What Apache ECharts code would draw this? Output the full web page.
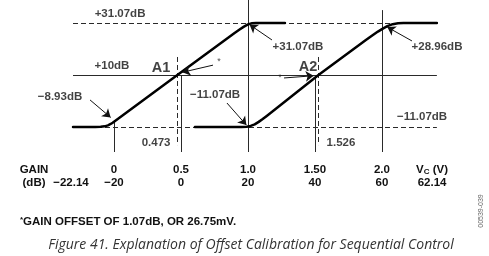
<!DOCTYPE html>
<html>
<head>
<meta charset="utf-8">
<script src="https://cdn.jsdelivr.net/npm/echarts@6/dist/echarts.min.js"></script>
<style>
html,body{margin:0;padding:0;background:#fff;}
#c{width:489px;height:256px;}
</style>
</head>
<body>
<div id="c"></div>
<script>
// ---- data (control voltage V_C in volts, gain in dB) ----
const curve1V    = [-0.306, -0.14, -0.1, -0.07, -0.045, -0.025, -0.01, 0, 0.473, 0.9, 0.94, 0.97, 1.0, 1.03, 1.06, 1.276];
const curve1Gain = [-11.07, -11.07, -11.0, -10.8, -10.4, -9.85, -9.35, -8.93, 10, 27.0, 28.5, 29.6, 30.5, 30.95, 31.07, 31.07];
const curve2V    = [0.604, 0.95, 0.99, 1.02, 1.05, 1.08, 1.11, 1.14, 1.526, 1.88, 1.93, 1.97, 2.0, 2.04, 2.08, 2.12, 2.16, 2.41];
const curve2Gain = [-11.07, -11.06, -10.95, -10.65, -10.0, -9.0, -7.85, -6.6, 10, 24.2, 26.1, 27.6, 28.6, 29.8, 30.6, 31.0, 31.07, 31.07];

// reference levels (dB) and their extent in V
const levelGain  = [31.07, 10, -11.07];
const levelDash  = [true, false, true];
const levelStart = -0.306, levelEnd = 2.41;

// vertical markers: V, from dB, to dB, dashed
const markV     = [0, 0.5, 1.0, 1.5, 2.0, 0.473, 1.526];
const markFrom  = [-8.93, 10, 40.39, 10, 36.3, 17.3, 17.3];
const markTo    = [-21.2, -21.2, -21.2, -21.2, -21.2, -18.4, -18.4];
const markDash  = [false, false, false, false, false, true, true];

// tick labels
const tickV      = [0, 0.5, 1.0, 1.5, 2.0];
const tickVText  = ['0', '0.5', '1.0', '1.50', '2.0'];
const tickGain   = ['\u221220', '0', '20', '40', '60'];
const gainLowText = '\u221222.14', gainHighText = '62.14';

// annotations: [V, dB, text, style]
const notes = [
  [0.045, 34.7, '+31.07dB', 't'],
  [-0.015, 13.6, '+10dB', 't'],
  [0.351, 12.9, 'A1', 'big'],
  [0.784, 15.3, '*', 'star'],
  [-0.403, 1.1, '\u22128.93dB', 't'],
  [0.754, 1.9, '\u221211.07dB', 't'],
  [1.373, 21.3, '+31.07dB', 't'],
  [1.448, 13.3, 'A2', 'big'],
  [1.239, 9.0, '*', 'star'],
  [2.411, 21.3, '+28.96dB', 't'],
  [2.299, -7.0, '\u221211.07dB', 't'],
  [0.314, -17.5, '0.473', 't'],
  [1.694, -17.5, '1.526', 't']
];
// arrows: [fromV, fromdB, toV, todB]
const arrows = [
  [-0.179, -0.1, -0.025, -7.2],
  [0.739, 14.0, 0.51, 11.1],
  [0.843, -1.35, 0.988, -10.3],
  [1.179, 24.2, 1.012, 30.4],
  [1.269, 8.8, 1.49, 9.7],
  [2.224, 23.8, 2.04, 29.4]
];

const FONT = '"Liberation Sans", Arial, sans-serif';
const chart = echarts.init(document.getElementById('c'), null, {renderer: 'canvas'});

const solidLines = [], dashedLines = [];
levelGain.forEach((g, i) => {
  (levelDash[i] ? dashedLines : solidLines).push({coords: [[levelStart, g], [levelEnd, g]]});
});
markV.forEach((v, i) => {
  (markDash[i] ? dashedLines : solidLines).push({coords: [[v, markFrom[i]], [v, markTo[i]]]});
});

const labelPosV = [-0.597, -0.321].concat(tickV, [2.374]);
function axisFmt(value) {
  const near = (a) => Math.abs(value - a) < 1e-6;
  if (near(-0.597)) return '{t|GAIN}\n{t|(dB)}';
  if (near(-0.321)) return '{t| }\n{t|' + gainLowText + '}';
  if (near(2.374)) return '{t|V}{s|C}{t| (V)}\n{t|' + gainHighText + '}';
  for (let i = 0; i < tickV.length; i++) {
    if (near(tickV[i])) return '{t|' + tickVText[i] + '}\n{t|' + tickGain[i] + '}';
  }
  return '';
}

chart.setOption({
  animation: false,
  grid: {left: 0, right: 0, top: 0, height: 152, containLabel: false},
  xAxis: {
    type: 'value', min: -0.851, max: 2.799,
    axisLine: {show: false}, axisTick: {show: false}, splitLine: {show: false},
    axisLabel: {
      customValues: labelPosV,
      margin: 11,
      formatter: axisFmt,
      rich: {
        t: {fontFamily: FONT, fontSize: 11.5, fontWeight: 'bold', color: '#111', lineHeight: 13.5},
        s: {fontFamily: FONT, fontSize: 8, fontWeight: 'bold', color: '#111', lineHeight: 13.5, padding: [5, 0, 0, 0]}
      }
    }
  },
  yAxis: {
    type: 'value', min: -21.2, max: 40.39,
    axisLine: {show: false}, axisTick: {show: false}, splitLine: {show: false}, axisLabel: {show: false}
  },
  series: [
    {
      type: 'lines', coordinateSystem: 'cartesian2d', silent: true, z: 2,
      lineStyle: {color: '#2a2a2a', width: 1, type: 'solid', opacity: 1},
      data: solidLines
    },
    {
      type: 'lines', coordinateSystem: 'cartesian2d', silent: true, z: 2,
      lineStyle: {color: '#2a2a2a', width: 1, type: [5, 3], opacity: 1},
      data: dashedLines
    },
    {
      type: 'lines', coordinateSystem: 'cartesian2d', silent: true, z: 4,
      symbol: ['none', 'arrow'], symbolSize: 8,
      lineStyle: {color: '#111', width: 1, opacity: 1},
      data: arrows.map(a => ({coords: [[a[0], a[1]], [a[2], a[3]]]}))
    },
    {
      type: 'line', showSymbol: false, smooth: false, z: 3,
      lineStyle: {color: '#000', width: 2.5, join: 'round', cap: 'round'},
      data: curve1V.map((v, i) => [v, curve1Gain[i]])
    },
    {
      type: 'line', showSymbol: false, smooth: false, z: 3,
      lineStyle: {color: '#000', width: 2.5, join: 'round', cap: 'round'},
      data: curve2V.map((v, i) => [v, curve2Gain[i]])
    },
    {
      type: 'scatter', symbolSize: 0, z: 5, silent: true,
      label: {
        show: true, position: 'inside',
        formatter: p => '{' + p.data[3] + '|' + p.data[2] + '}',
        rich: {
          t: {fontFamily: FONT, fontSize: 11.5, fontWeight: 'bold', color: '#111'},
          big: {fontFamily: FONT, fontSize: 14.5, fontWeight: 'bold', color: '#111'},
          star: {fontFamily: FONT, fontSize: 9, color: '#222'}
        }
      },
      data: notes
    }
  ],
  graphic: [
    {
      type: 'text', left: 20, top: 216,
      style: {
        text: '{s|*}{t|GAIN OFFSET OF 1.07dB, OR 26.75mV.}',
        rich: {
          s: {fontFamily: FONT, fontSize: 8, fontWeight: 'bold', fill: '#111', padding: [0, 0, 4, 0]},
          t: {fontFamily: FONT, fontSize: 11.5, fontWeight: 'bold', fill: '#111'}
        }
      }
    },
    {
      type: 'text', x: 251, y: 245,
      style: {
        text: 'Figure 41. Explanation of Offset Calibration for Sequential Control',
        font: 'italic 14px "Open Sans", sans-serif', fill: '#333',
        textAlign: 'center', textVerticalAlign: 'middle'
      }
    },
    {
      type: 'text', x: 481, y: 211, rotation: Math.PI / 2,
      style: {
        text: '00539-039', font: '7px "Liberation Sans", Arial, sans-serif', fill: '#666',
        textAlign: 'center', textVerticalAlign: 'middle'
      }
    }
  ]
});
</script>
</body>
</html>
